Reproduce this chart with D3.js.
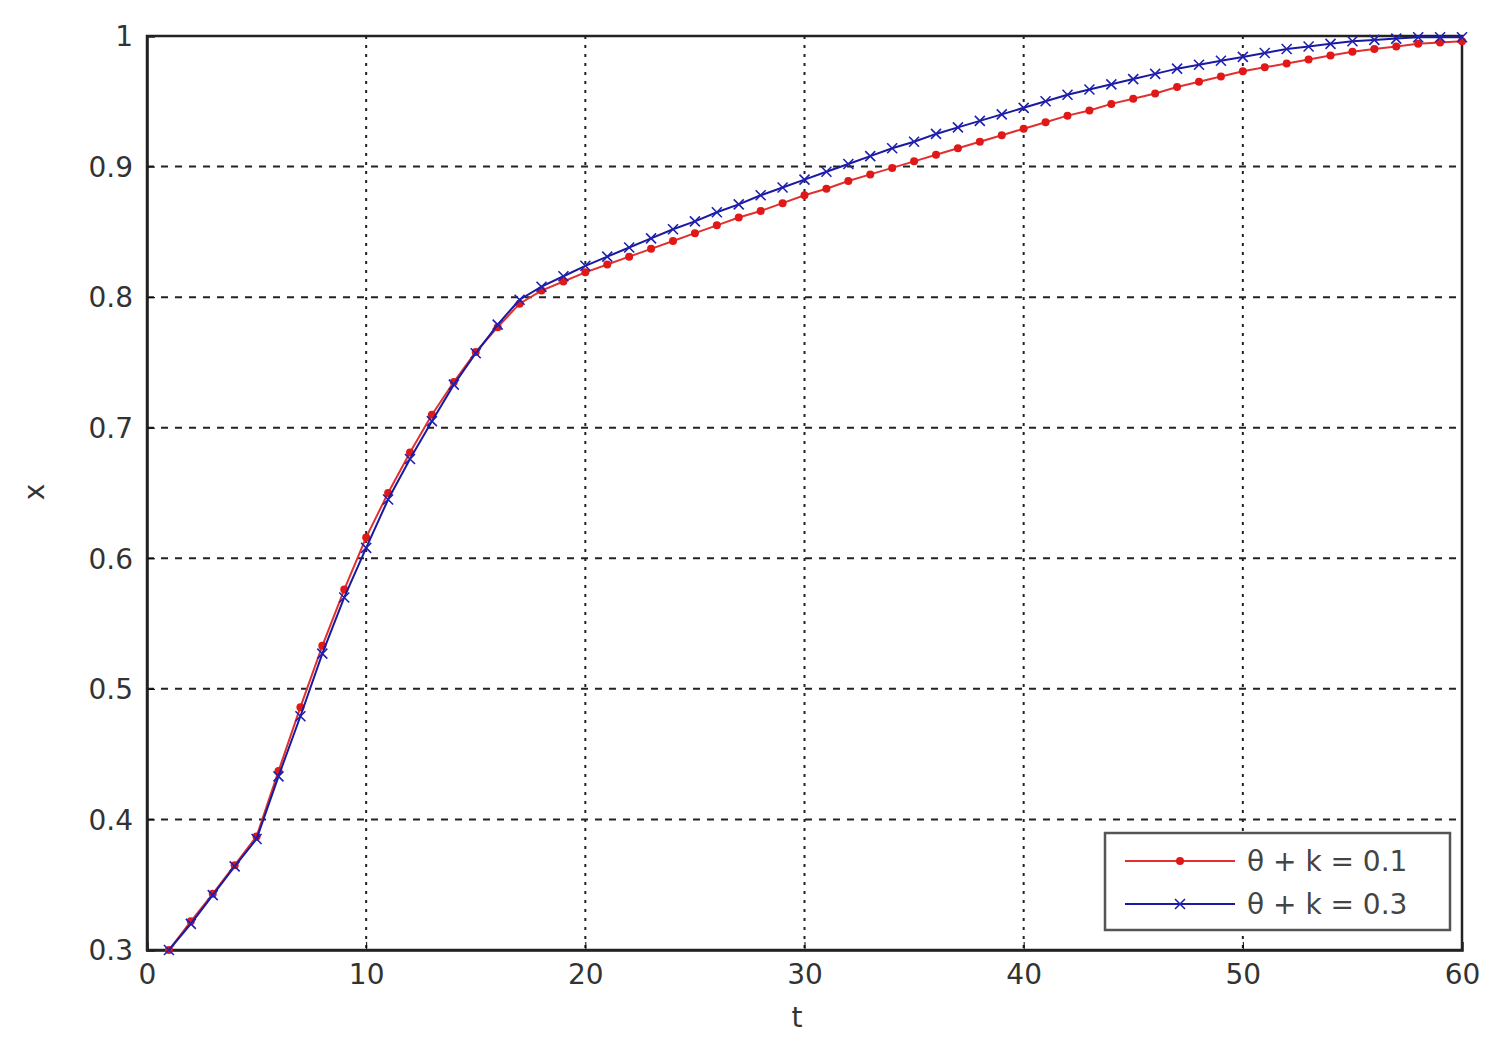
<!DOCTYPE html>
<html>
<head>
<meta charset="utf-8">
<script src="https://cdn.jsdelivr.net/npm/d3@7"></script>
<style>
  body { margin: 0; background: #fff; }
  text { font-family: "DejaVu Sans", sans-serif; }
</style>
</head>
<body>
<div id="chart"></div>
<script>
const tValues = d3.range(1, 61);
const xTicks = [0, 10, 20, 30, 40, 50, 60];
const yTicks = [0.3, 0.4, 0.5, 0.6, 0.7, 0.8, 0.9, 1];
const yTickLabels = ["0.3", "0.4", "0.5", "0.6", "0.7", "0.8", "0.9", "1"];

// θ + k = 0.1
const redValues = [
  0.300, 0.322, 0.343, 0.365, 0.387, 0.437, 0.486, 0.533, 0.576, 0.616,
  0.650, 0.681, 0.710, 0.735, 0.758, 0.777, 0.795, 0.805, 0.812, 0.819,
  0.825, 0.831, 0.837, 0.843, 0.849, 0.855, 0.861, 0.866, 0.872, 0.878,
  0.883, 0.889, 0.894, 0.899, 0.904, 0.909, 0.914, 0.919, 0.924, 0.929,
  0.934, 0.939, 0.943, 0.948, 0.952, 0.956, 0.961, 0.965, 0.969, 0.973,
  0.976, 0.979, 0.982, 0.985, 0.988, 0.990, 0.992, 0.994, 0.995, 0.996
];
// θ + k = 0.3
const blueValues = [
  0.300, 0.320, 0.342, 0.364, 0.385, 0.433, 0.479, 0.527, 0.570, 0.608,
  0.645, 0.676, 0.705, 0.733, 0.757, 0.779, 0.798, 0.808, 0.816, 0.824,
  0.831, 0.838, 0.845, 0.852, 0.858, 0.865, 0.871, 0.878, 0.884, 0.890,
  0.896, 0.902, 0.908, 0.914, 0.919, 0.925, 0.930, 0.935, 0.940, 0.945,
  0.950, 0.955, 0.959, 0.963, 0.967, 0.971, 0.975, 0.978, 0.981, 0.984,
  0.987, 0.990, 0.992, 0.994, 0.996, 0.997, 0.998, 0.999, 0.999, 0.999
];
const seriesNames = ["θ + k = 0.1", "θ + k = 0.3"];

const width = 1500, height = 1049;
const margin = { top: 36, right: 38, bottom: 99, left: 147 };
const w = width - margin.left - margin.right;
const h = height - margin.top - margin.bottom;

const svg = d3.select("#chart").append("svg")
  .attr("width", width).attr("height", height);
const g = svg.append("g").attr("transform", `translate(${margin.left},${margin.top})`);

const x = d3.scaleLinear().domain([0, 60]).range([0, w]);
const y = d3.scaleLinear().domain([0.3, 1]).range([h, 0]);

// grid
g.selectAll(".vgrid").data(xTicks.slice(1, -1)).enter().append("line")
  .attr("x1", d => x(d)).attr("x2", d => x(d)).attr("y1", 0).attr("y2", h)
  .attr("stroke", "#222").attr("stroke-width", 2).attr("stroke-dasharray", "3,6");
g.selectAll(".hgrid").data(yTicks.slice(1, -1)).enter().append("line")
  .attr("y1", d => y(d)).attr("y2", d => y(d)).attr("x1", 0).attr("x2", w)
  .attr("stroke", "#222").attr("stroke-width", 2).attr("stroke-dasharray", "7,7");

// axes
g.append("g").attr("transform", `translate(0,${h})`)
  .call(d3.axisBottom(x).tickValues(xTicks).tickSize(-8).tickPadding(14))
  .call(a => a.selectAll("text").attr("font-size", 28).attr("fill", "#333"));
g.append("g")
  .call(d3.axisLeft(y).tickValues(yTicks).tickFormat((d, i) => yTickLabels[i]).tickSize(-8).tickPadding(14))
  .call(a => a.selectAll("text").attr("font-size", 28).attr("fill", "#333").attr("dy", "0.35em"));
g.append("rect").attr("width", w).attr("height", h)
  .attr("fill", "none").attr("stroke", "#222").attr("stroke-width", 2.5);
g.selectAll(".domain").attr("stroke", "#222").attr("stroke-width", 2.5);

svg.append("text").attr("x", 797).attr("y", 1027).attr("text-anchor", "middle")
  .attr("font-size", 28).attr("fill", "#333").text("t");
svg.append("text").attr("transform", "translate(44,492) rotate(-90)").attr("text-anchor", "middle")
  .attr("font-size", 28).attr("fill", "#333").text("x");

const line = d3.line().x((d, i) => x(tValues[i])).y(d => y(d));

function drawRed(sel, px, py) {
  sel.append("circle").attr("cx", px).attr("cy", py).attr("r", 4).attr("fill", "#e01818");
}
function drawCross(sel, px, py) {
  const s = 5;
  sel.append("path").attr("d", `M${px - s},${py - s}L${px + s},${py + s}M${px - s},${py + s}L${px + s},${py - s}`)
    .attr("stroke", "#2020b0").attr("stroke-width", 1.6);
}

g.append("path").datum(redValues).attr("d", line)
  .attr("fill", "none").attr("stroke", "#e03030").attr("stroke-width", 2);
redValues.forEach((v, i) => drawRed(g, x(tValues[i]), y(v)));
g.append("path").datum(blueValues).attr("d", line)
  .attr("fill", "none").attr("stroke", "#1a1aa0").attr("stroke-width", 2);
blueValues.forEach((v, i) => drawCross(g, x(tValues[i]), y(v)));

// legend
const lg = svg.append("g").attr("transform", "translate(1105,833)");
lg.append("rect").attr("width", 345).attr("height", 97)
  .attr("fill", "#fff").attr("stroke", "#555").attr("stroke-width", 2.5);
[0, 1].forEach(i => {
  const cy = 28 + i * 43;
  lg.append("line").attr("x1", 20).attr("x2", 130).attr("y1", cy).attr("y2", cy)
    .attr("stroke", i ? "#1a1aa0" : "#e03030").attr("stroke-width", 2);
  if (i) drawCross(lg, 75, cy); else drawRed(lg, 75, cy);
  lg.append("text").attr("x", 142).attr("y", cy).attr("dy", "0.35em")
    .attr("font-size", 28).attr("fill", "#444").attr("xml:space", "preserve")
    .text(seriesNames[i]);
});
</script>
</body>
</html>
